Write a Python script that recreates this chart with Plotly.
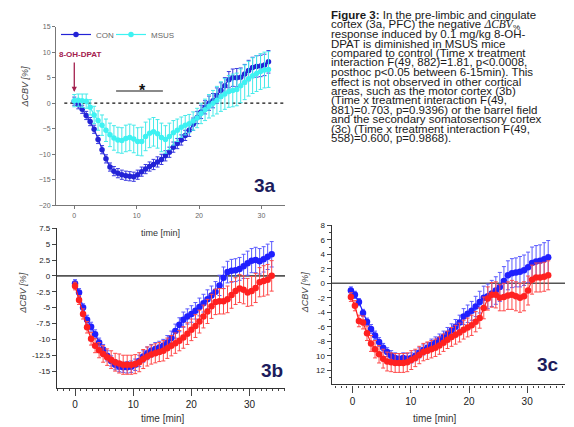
import plotly.graph_objects as go

W, H = 574, 427

# ---------------- data: panel 3a (PFC) ----------------
t_a = [0, 0.64, 1.27, 1.91, 2.54, 3.18, 3.81, 4.45, 5.08, 5.72, 6.35, 6.99, 7.62, 8.26, 8.89,
       9.53, 10.16, 10.8, 11.43, 12.07, 12.7, 13.34, 13.97, 14.61, 15.24, 15.88, 16.51, 17.15,
       17.78, 18.42, 19.05, 19.69, 20.32, 20.96, 21.59, 22.23, 22.86, 23.5, 24.13, 24.77, 25.4,
       26.04, 26.67, 27.31, 27.94, 28.58, 29.21, 29.85, 30.48, 31.12]
con_a = [0.4, -0.3, -1.2, -2.4, -3.6, -5.1, -7.1, -9.1, -10.9, -12.5, -13.3, -13.7, -14.0, -14.2,
         -14.3, -14.4, -14.0, -13.4, -12.9, -12.4, -12.0, -11.5, -11.0, -10.3, -9.6, -8.6, -7.9,
         -7.2, -6.3, -5.3, -4.1, -2.8, -1.7, -0.8, 0.0, 0.5, 1.5, 2.5, 3.4, 4.6, 5.0, 5.0, 5.1,
         5.7, 6.4, 7.0, 7.2, 7.3, 7.5, 8.1]
con_a_err = [0.8, 0.8, 0.8, 0.8, 0.8, 0.8, 0.8, 0.8, 0.8, 0.8, 0.9, 0.9, 0.9, 0.9, 0.9, 0.9, 0.9,
             0.9, 0.9, 0.9, 1.0, 1.0, 1.0, 1.0, 1.0, 1.0, 1.0, 1.0, 1.0, 1.2, 1.2, 1.2, 1.3, 1.3,
             1.4, 1.4, 1.5, 1.5, 1.6, 1.6, 1.7, 1.8, 1.8, 1.9, 2.0, 2.0, 2.1, 2.1, 2.1, 2.2]
msus_a = [0.5, 0.6, 0.5, 0.4, -0.8, -2.3, -3.4, -4.3, -5.3, -6.2, -6.8, -7.2, -7.3, -6.9, -6.7,
          -7.0, -7.5, -7.5, -6.5, -5.9, -5.6, -6.0, -6.7, -7.1, -6.5, -5.8, -5.3, -4.7, -4.3,
          -4.0, -3.5, -2.9, -2.0, -1.3, -0.6, 0.0, 0.6, 1.3, 1.8, 2.3, 2.5, 2.7, 3.4, 4.1, 4.8,
          5.4, 5.8, 6.2, 6.5, 6.6]
msus_a_err = [1.2, 1.2, 1.3, 1.4, 1.5, 1.7, 1.9, 2.0, 2.2, 2.3, 2.4, 2.5, 2.5, 2.6, 2.6, 2.7, 2.7,
              2.8, 2.8, 2.8, 2.8, 2.8, 2.8, 2.7, 2.6, 2.4, 2.2, 2.0, 1.9, 1.8, 1.8, 1.9, 2.0, 2.1,
              2.3, 2.5, 2.7, 2.9, 3.0, 3.1, 3.2, 3.2, 3.3, 3.4, 3.4, 3.5, 3.5, 3.5, 3.5, 3.5]

# ---------------- data: panel 3b (motor cortex) ----------------
t_b = [0, 0.69, 1.38, 2.07, 2.76, 3.45, 4.14, 4.83, 5.52, 6.21, 6.9, 7.59, 8.28, 8.97, 9.66,
       10.35, 11.04, 11.73, 12.42, 13.11, 13.8, 14.49, 15.18, 15.87, 16.56, 17.25, 17.94, 18.63,
       19.32, 20.01, 20.7, 21.39, 22.08, 22.77, 23.46, 24.15, 24.84, 25.53, 26.22, 26.91, 27.6,
       28.29, 28.98, 29.67, 30.36, 31.05, 31.74, 32.43, 33.12, 33.81]
con_b = [-1.2, -2.6, -5.0, -6.9, -8.0, -9.2, -10.5, -11.6, -12.6, -13.4, -14.0, -14.3, -14.4,
         -14.4, -14.3, -14.0, -13.4, -12.7, -12.2, -11.8, -11.5, -11.3, -11.0, -10.5, -9.8, -8.7,
         -7.7, -6.9, -6.4, -6.0, -5.5, -4.9, -4.3, -3.7, -3.1, -2.5, -1.5, -0.3, 0.6, 0.8, 0.9,
         1.1, 1.5, 2.0, 2.4, 2.5, 2.3, 2.6, 3.0, 3.4]
con_b_err = [0.6, 0.6, 0.6, 0.7, 0.7, 0.7, 0.7, 0.8, 0.8, 0.8, 0.8, 0.8, 0.8, 0.9, 0.9, 0.9, 0.9,
             0.9, 1.0, 1.0, 1.0, 1.0, 1.0, 1.1, 1.1, 1.1, 1.1, 1.2, 1.2, 1.3, 1.3, 1.4, 1.4, 1.5,
             1.5, 1.6, 1.6, 1.7, 1.7, 1.8, 1.8, 1.8, 1.9, 1.9, 1.9, 2.0, 2.0, 2.0, 2.0, 2.0]
msus_b = [-1.6, -3.8, -6.0, -8.1, -9.9, -11.0, -11.7, -12.3, -12.8, -13.2, -13.6, -13.8, -14.0,
          -14.0, -14.0, -13.9, -13.6, -13.1, -12.7, -12.4, -12.2, -12.0, -11.8, -11.4, -11.0,
          -10.6, -10.2, -9.7, -9.1, -8.5, -7.9, -7.2, -6.4, -5.6, -4.8, -4.1, -4.0, -4.0, -3.7,
          -3.0, -2.4, -2.0, -2.2, -2.6, -2.4, -1.9, -1.0, -0.8, -0.6, 0.0]
msus_b_err = [0.6, 0.7, 0.8, 0.9, 1.0, 1.1, 1.2, 1.3, 1.3, 1.4, 1.4, 1.5, 1.5, 1.5, 1.5, 1.5, 1.5,
              1.5, 1.5, 1.5, 1.5, 1.5, 1.6, 1.6, 1.6, 1.6, 1.6, 1.7, 1.7, 1.7, 1.8, 1.8, 1.8, 1.9,
              1.9, 2.0, 2.0, 2.0, 2.1, 2.1, 2.1, 2.2, 2.2, 2.2, 2.3, 2.3, 2.3, 2.4, 2.4, 2.4]

# ---------------- data: panel 3c (barrel field / S2) ----------------
t_c = [-0.3, 0.39, 1.08, 1.78, 2.47, 3.16, 3.85, 4.54, 5.24, 5.93, 6.62, 7.31, 8.0, 8.7, 9.39,
       10.08, 10.77, 11.46, 12.16, 12.85, 13.54, 14.23, 14.92, 15.62, 16.31, 17.0, 17.69, 18.38,
       19.08, 19.77, 20.46, 21.15, 21.84, 22.54, 23.23, 23.92, 24.61, 25.3, 26.0, 26.69, 27.38,
       28.07, 28.76, 29.46, 30.15, 30.84, 31.53, 32.22, 32.92, 33.61]
con_c = [-1.0, -1.6, -2.6, -4.1, -5.3, -6.3, -7.2, -8.1, -8.9, -9.5, -10.0, -10.3, -10.4, -10.3,
         -10.4, -10.3, -10.0, -9.6, -9.2, -8.9, -8.5, -8.2, -7.8, -7.4, -7.0, -6.5, -6.0, -5.4,
         -4.6, -4.2, -3.8, -3.2, -2.6, -2.0, -1.8, -1.4, -1.0, -0.5, 0.3, 1.1, 1.4, 1.5, 1.6, 1.8,
         2.2, 2.8, 3.0, 3.1, 3.3, 3.6]
con_c_err = [0.5, 0.5, 0.5, 0.5, 0.5, 0.6, 0.6, 0.6, 0.6, 0.6, 0.7, 0.7, 0.7, 0.7, 0.7, 0.7, 0.7,
             0.7, 0.7, 0.7, 0.8, 0.8, 0.8, 0.8, 0.9, 0.9, 1.0, 1.0, 1.1, 1.2, 1.3, 1.4, 1.5, 1.6,
             1.7, 1.8, 1.9, 2.0, 2.0, 2.0, 2.0, 2.0, 2.1, 2.1, 2.1, 2.2, 2.2, 2.2, 2.3, 2.3]
msus_c = [-1.9, -3.1, -5.2, -5.4, -6.9, -8.3, -9.1, -9.8, -10.4, -10.8, -10.9, -11.0, -11.0,
          -11.0, -10.9, -10.6, -10.3, -9.9, -9.5, -9.3, -9.1, -8.9, -8.6, -8.2, -7.8, -7.4, -7.1,
          -6.8, -6.4, -6.1, -5.8, -5.3, -4.8, -3.4, -2.1, -1.6, -1.6, -2.0, -1.9, -1.7, -1.6,
          -1.8, -2.0, -1.8, -1.0, 0.5, 0.8, 0.8, 0.9, 1.1]
msus_c_err = [0.6, 0.7, 0.8, 0.9, 1.0, 1.1, 1.2, 1.2, 1.3, 1.3, 1.3, 1.3, 1.3, 1.3, 1.3, 1.3, 1.2,
              1.2, 1.2, 1.2, 1.2, 1.2, 1.2, 1.2, 1.2, 1.3, 1.3, 1.3, 1.3, 1.3, 1.4, 1.4, 1.4, 1.5,
              1.6, 1.7, 1.8, 1.8, 1.9, 1.9, 2.0, 2.0, 2.0, 2.0, 2.0, 2.0, 2.0, 2.0, 2.0, 2.0]

# tick labels
xticks = [0, 10, 20, 30]
yticks_a = [-20, -15, -10, -5, 0, 5, 10, 15]
yticks_b = [-15, -12.5, -10, -7.5, -5, -2.5, 0, 2.5, 5, 7.5]
yticks_b_text = ["-15", "-12.5", "-10", "-7.5", "-5", "-2.5", "0", "2.5", "5", "7.5"]
yticks_c = [-12, -10, -8, -6, -4, -2, 0, 2, 4, 6, 8]
yticks_c_text = ["12", "10", "-8", "-6", "-4", "-2", "0", "2", "4", "6", "8"]

caption_lines = [
    "<b>Figure 3:</b> In the pre-limbic and cingulate",
    "cortex (3a, PFC) the negative <span style='font-family:Liberation Serif'><i>ΔCBV</i></span><sub>%</sub>",
    "response induced by 0.1 mg/kg 8-OH-",
    "DPAT is diminished in MSUS mice",
    "compared to control (Time x treatment",
    "interaction F(49, 882)=1.81, p<0.0008,",
    "posthoc p<0.05 between 6-15min). This",
    "effect is not observed in other cortical",
    "areas, such as the motor cortex (3b)",
    "(Time x treatment interaction F(49,",
    "881)=0.703, p=0.9396) or the barrel field",
    "and the secondary somatosensory cortex",
    "(3c) (Time x treatment interaction F(49,",
    "558)=0.600, p=0.9868).",
]

BLUE_A = "#2323d6"
CYAN = "#3ef2f2"
BLUE = "#1f1fff"
RED = "#ff2020"
FONT = "Liberation Sans, Arial, sans-serif"


def px(x, y):
    return x / W, 1 - y / H


fig = go.Figure()


def series(x, y, err, color, ecolor, size, xa, ya, name=None, legend=None):
    fig.add_trace(go.Scatter(
        x=x, y=y, mode="lines+markers", name=name, showlegend=legend is not None,
        legend=legend or "legend",
        xaxis=xa, yaxis=ya,
        line=dict(color=color, width=1.2),
        marker=dict(color=color, size=size),
        error_y=dict(type="data", array=err, color=ecolor, thickness=1, width=2),
    ))


series(t_a, con_a, con_a_err, BLUE_A, "#3b3be0", 5.5, "x", "y", "CON", "legend")
series(t_a, msus_a, msus_a_err, CYAN, "#46eaea", 5.5, "x", "y", "MSUS", "legend2")
series(t_b, con_b, con_b_err, BLUE, "#5a5aff", 6.5, "x2", "y2")
series(t_b, msus_b, msus_b_err, RED, "#ff4a4a", 6.5, "x2", "y2")
series(t_c, con_c, con_c_err, BLUE, "#5a5aff", 6.5, "x3", "y3")
series(t_c, msus_c, msus_c_err, RED, "#ff4a4a", 6.5, "x3", "y3")

ax_common = dict(showgrid=False, zeroline=False, showline=True, ticks="outside")
leg_common = dict(orientation="h", xanchor="left", yanchor="middle", itemwidth=30,
                  font=dict(size=8, color="#666"), bgcolor="rgba(0,0,0,0)")

fig.update_layout(
    width=W, height=H, margin=dict(l=0, r=0, t=0, b=0),
    paper_bgcolor="white", plot_bgcolor="white",
    font=dict(family=FONT, color="#333"),
    xaxis=dict(**ax_common, domain=[56 / W, 285 / W], range=[-2.93, 33.77], anchor="y",
               tickvals=xticks, ticklen=3, linecolor="#777", tickcolor="#777", linewidth=1,
               tickfont=dict(size=7, color="#666")),
    yaxis=dict(**ax_common, domain=[1 - 204.7 / H, 1 - 23 / H], range=[-20, 15], anchor="x",
               tickvals=yticks_a, ticklen=3, linecolor="#777", tickcolor="#777", linewidth=1,
               tickfont=dict(size=7, color="#666")),
    xaxis2=dict(**ax_common, domain=[57 / W, 285 / W], range=[-3.1, 36.1], anchor="y2",
                tickvals=xticks, ticklen=7, linecolor="#333", tickcolor="#444", linewidth=1.3,
                tickfont=dict(size=10, color="#222"),
                minor=dict(dtick=1, ticklen=2, ticks="outside", tickcolor="#444")),
    yaxis2=dict(**ax_common, domain=[1 - 390 / H, 1 - 228 / H], range=[-17.6, 7.5], anchor="x2",
                tickvals=yticks_b, ticktext=yticks_b_text, ticklen=4, linecolor="#333",
                tickcolor="#444", linewidth=1.3, tickfont=dict(size=8, color="#222")),
    xaxis3=dict(**ax_common, domain=[331.7 / W, 565 / W], range=[-3.6, 36.5], anchor="y3",
                tickvals=xticks, ticklen=7, linecolor="#333", tickcolor="#444", linewidth=1.3,
                tickfont=dict(size=10, color="#222"),
                minor=dict(dtick=1, ticklen=2, ticks="outside", tickcolor="#444")),
    yaxis3=dict(**ax_common, domain=[1 - 386.7 / H, 1 - 225 / H], range=[-13.95, 8], anchor="x3",
                tickvals=yticks_c, ticktext=yticks_c_text, ticklen=4, linecolor="#333",
                tickcolor="#444", linewidth=1.3, tickfont=dict(size=8, color="#222"),
                minor=dict(dtick=1, ticklen=2, ticks="outside", tickcolor="#444")),
    legend=dict(**leg_common, x=px(56, 0)[0], y=px(0, 31)[1]),
    legend2=dict(**leg_common, x=px(111, 0)[0], y=px(0, 31)[1]),
)

# reference lines
fig.add_shape(type="line", xref="x domain", yref="y", x0=(64.3 - 56) / 229, x1=1, y0=0, y1=0,
              line=dict(color="#111", width=1.2, dash="dot"), layer="below")
fig.add_shape(type="line", xref="x2 domain", yref="y2", x0=0, x1=1, y0=0, y1=0,
              line=dict(color="#555", width=1.6), layer="below")
fig.add_shape(type="line", xref="x3 domain", yref="y3", x0=0, x1=1, y0=0, y1=0,
              line=dict(color="#555", width=1.6), layer="below")
# significance bar (6-15 min)
fig.add_shape(type="line", xref="x", yref="y", x0=6.7, x1=14.2, y0=2.4, y1=2.4,
              line=dict(color="#8a8a8a", width=2))


def ann(x, y, text, size, color="#333", **kw):
    xp, yp = px(x, y)
    kw.setdefault("xanchor", "center")
    kw.setdefault("yanchor", "middle")
    fig.add_annotation(x=xp, y=yp, xref="paper", yref="paper", text=text, showarrow=False,
                       font=dict(size=size, color=color, family=kw.pop("family", FONT)), **kw)


ann(142.3, 87.5, "<b>*</b>", 16, "#111")
# 8-OH-DPAT arrow
fig.add_annotation(x=0, y=2.2, xref="x", yref="y", ax=0, ay=-31, text="", showarrow=True,
                   arrowhead=2, arrowsize=0.8, arrowwidth=1.3, arrowcolor="#a3204e")
ann(79.5, 51.7, "<b>8-OH-DPAT</b>", 8, "#a3204e")

# axis titles
ann(160, 232.5, "time [min]", 9, "#333")
ann(163, 421.5, "time [min]", 10, "#333")
ann(435, 421.5, "time [min]", 10, "#333")
ann(25, 84, "<i>ΔCBV [%]</i>", 9, "#444", textangle=-90)
ann(23.5, 293, "<i>ΔCBV [%]</i>", 9, "#444", textangle=-90)
ann(305, 293, "<i>ΔCBV [%]</i>", 9, "#444", textangle=-90)

# panel labels
ann(265, 185, "<b>3a</b>", 19, "#1c1c5c")
ann(271.5, 373, "<b>3b</b>", 19, "#1c1c5c")
ann(548, 367, "<b>3c</b>", 19, "#1c1c5c")

# caption text
line_y = [11, 21, 30.7, 40.3, 50, 59.3, 69, 79, 88.3, 98, 107.3, 117.3, 126.7, 136.3]
for yy, txt in zip(line_y, caption_lines):
    ann(329.3, yy, txt, 11.5, "#1a1a1a", xanchor="left", align="left")

fig.write_html("out.html", config={"displayModeBar": False},
               post_script="document.body.style.margin='0';document.body.style.padding='0';")
